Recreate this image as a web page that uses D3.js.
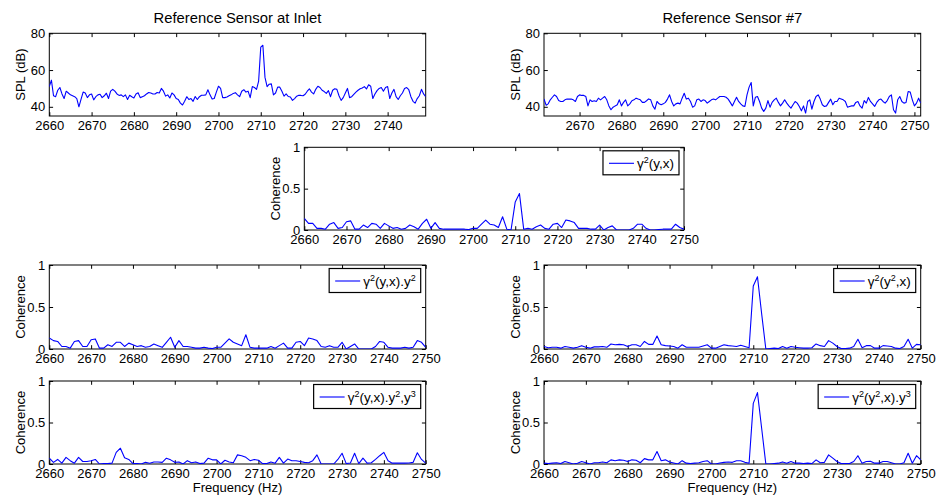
<!DOCTYPE html>
<html>
<head>
<meta charset="utf-8">
<script src="https://cdn.jsdelivr.net/npm/d3@7"></script>
<style>
  body { margin: 0; background: #fff; }
  svg { display: block; }
  text { font-family: "Liberation Sans", Arial, Helvetica, sans-serif; fill: #000; }
</style>
</head>
<body>
<svg id="fig" width="937" height="497"></svg>
<script>
// ---- Spectra (SPL in dB), 0.5 Hz resolution ----
const inletStart = 2660, inletStep = 0.5;
const splInlet = [
  51, 54.5, 46, 45.5, 49, 50.5, 47, 44.5, 48.5, 47.5, 46.5, 46, 45.5, 44.5, 40, 44, 48, 47.5, 45, 46.5,
  47, 43.8, 45.5, 46.5, 46.8, 45, 46, 47.4, 44.5, 48.5, 49.5, 48.5, 47, 46.2, 46.5, 45.5, 46.5, 44, 46.3, 45.5,
  44.8, 47, 47.6, 45, 45.5, 46, 47, 47.8, 47.5, 47, 47, 47.8, 47.5, 50, 48.5, 45.8, 46.5, 44.8, 47.5, 46.5,
  44.5, 44, 42, 41, 43, 45.5, 44, 44.5, 43, 45.6, 44, 45.5, 46.3, 46.3, 46.5, 49.3, 46.5, 44.2, 44.5, 48,
  51.2, 50, 45, 45, 45.3, 46, 46.5, 47.3, 47.7, 46.5, 45.5, 48.5, 49.3, 48, 48.5, 45, 51, 50.5, 49.5, 54,
  72.5, 73.5, 56, 51, 52.3, 52.5, 46.5, 47.5, 50.7, 50.7, 48.5, 45.8, 47, 45.6, 45.3, 43.5, 44.5, 45.8, 46.3, 46.2,
  46, 46.8, 48.5, 49.8, 48, 47, 49.5, 51.2, 50.5, 49, 48.3, 47.3, 48.8, 45.5, 49, 49.8, 49.5, 46, 43.5, 45,
  47.5, 50, 45, 45.5, 46.8, 48, 49, 49.8, 50.2, 51, 49.7, 52, 51.2, 44.5, 47, 48.8, 50, 50.5, 48.5, 50.5,
  51, 44.5, 47.5, 49.5, 45.5, 44, 46, 47.5, 50, 50.5, 49.3, 45.5, 43, 42, 44.5, 46, 49.5, 47, 45.5
];

const s7Start = 2661.5, s7Step = 0.5;
const splSensor7 = [
  44.3, 40.9, 41.6, 43.8, 45.2, 46.5, 45.6, 43.4, 42.9, 42.9, 43.8, 44.2, 44.2, 44.2, 43.8, 42.9, 45.6, 46.5, 46.2, 46.2,
  45.6, 40.5, 43.8, 42.9, 43.3, 42.9, 44.7, 43.8, 44.7, 45.6, 43.8, 40.5, 38.4, 39.8, 40.5, 41.1, 43.8, 40.5, 42.4, 43.8,
  40.5, 41.6, 43.3, 43.8, 44.7, 44.2, 43.8, 42.4, 42.4, 43.3, 44.3, 43.8, 40.5, 38.7, 42.9, 41.6, 41.1, 41.6, 42.4, 44.2,
  46.5, 42.9, 40.5, 41.6, 42.0, 41.6, 44.7, 47.4, 44.2, 44.7, 42.9, 39.8, 40.5, 43.8, 44.2, 42.9, 43.8, 43.4, 42.0, 42.9,
  43.8, 44.2, 43.8, 44.7, 45.6, 45.6, 45.6, 45.2, 44.2, 42.4, 40.5, 42.9, 45.2, 42.9, 41.6, 40.5, 40.2, 46.5, 50.7, 53.2,
  40.5, 45.2, 45.6, 42.9, 39.3, 37.5, 39.3, 43.4, 39.8, 42.4, 43.8, 44.7, 42.4, 40.5, 42.0, 43.8, 42.0, 40.5, 39.3, 41.1,
  42.9, 42.0, 40.2, 37.8, 40.5, 36.6, 42.9, 43.8, 38.7, 42.9, 45.6, 46.5, 44.2, 41.1, 40.2, 40.5, 42.4, 44.2, 41.1, 42.9,
  42.9, 44.7, 44.3, 43.8, 42.9, 39.8, 40.2, 40.5, 40.5, 42.4, 42.9, 40.5, 39.3, 43.4, 42.0, 45.1, 42.9, 41.6, 40.2, 42.4,
  43.8, 44.2, 42.9, 42.0, 43.4, 45.6, 46.5, 38.4, 36.6, 43.8, 45.6, 42.9, 42.0, 42.4, 48.3, 48.0, 43.8, 40.5, 42.0, 44.7,
  42.0
];

// ---- Coherence functions, 1 Hz resolution, 2660..2750 Hz ----
const cohStart = 2660, cohStep = 1;
const cohYX = [
  0.14, 0.08, 0.08, 0.02, 0.02, 0.01, 0.07, 0.09, 0.02, 0.03, 0.10, 0.11, 0.01, 0.01, 0.06, 0.03, 0.08, 0.07, 0.02, 0.08,
  0.05, 0.02, 0.03, 0.01, 0.02, 0.06, 0.04, 0.01, 0.08, 0.13, 0.02, 0.09, 0.02, 0.01, 0.01, 0.01, 0.01, 0.01, 0.01, 0.005,
  0.02, 0.02, 0.07, 0.12, 0.07, 0.06, 0.03, 0.16, 0.01, 0.0, 0.34, 0.44, 0.01, 0.02, 0.01, 0.04, 0.06, 0.02, 0.01, 0.07,
  0.08, 0.03, 0.12, 0.11, 0.09, 0.02, 0.02, 0.02, 0.01, 0.01, 0.06, 0.0, 0.03, 0.05, 0.0, 0.0, 0.0, 0.0, 0.02, 0.07,
  0.07, 0.02, 0.0, 0.0, 0.005, 0.01, 0.01, 0.01, 0.07, 0.03, 0.01
];
const cohYXy2 = [
  0.13, 0.10, 0.09, 0.03, 0.03, 0.01, 0.09, 0.10, 0.03, 0.03, 0.11, 0.12, 0.01, 0.01, 0.05, 0.03, 0.08, 0.08, 0.03, 0.07,
  0.05, 0.03, 0.04, 0.02, 0.03, 0.06, 0.04, 0.02, 0.08, 0.14, 0.02, 0.10, 0.03, 0.03, 0.02, 0.01, 0.01, 0.02, 0.01, 0.005,
  0.02, 0.02, 0.07, 0.12, 0.08, 0.06, 0.04, 0.17, 0.02, 0.01, 0.01, 0.01, 0.01, 0.03, 0.01, 0.04, 0.07, 0.01, 0.01, 0.08,
  0.09, 0.04, 0.13, 0.12, 0.10, 0.03, 0.02, 0.04, 0.02, 0.02, 0.08, 0.0, 0.03, 0.06, 0.0, 0.0, 0.0, 0.0, 0.03, 0.09,
  0.08, 0.02, 0.01, 0.01, 0.01, 0.02, 0.01, 0.02, 0.10, 0.08, 0.02
];
const cohY2X = [
  0.03, 0.015, 0.02, 0.02, 0.01, 0.03, 0.02, 0.01, 0.02, 0.04, 0.02, 0.01, 0.025, 0.025, 0.03, 0.02, 0.06, 0.05, 0.055, 0.05,
  0.03, 0.05, 0.05, 0.03, 0.09, 0.055, 0.055, 0.155, 0.05, 0.04, 0.035, 0.03, 0.01, 0.05, 0.02, 0.02, 0.02, 0.02, 0.035, 0.05,
  0.01, 0.01, 0.03, 0.05, 0.04, 0.035, 0.03, 0.045, 0.03, 0.015, 0.75, 0.86, 0.42, 0.0, 0.005, 0.01, 0.005, 0.03, 0.01, 0.03,
  0.02, 0.015, 0.01, 0.01, 0.015, 0.06, 0.04, 0.03, 0.10, 0.07, 0.03, 0.005, 0.005, 0.01, 0.03, 0.115, 0.015, 0.04, 0.04, 0.01,
  0.01, 0.04, 0.035, 0.03, 0.01, 0.005, 0.03, 0.115, 0.01, 0.055, 0.05
];
const cohYXy2y3 = [
  0.07, 0.02, 0.055, 0.01, 0.08, 0.04, 0.01, 0.08, 0.03, 0.03, 0.04, 0.055, 0.0, 0.005, 0.005, 0.01, 0.14, 0.19, 0.075, 0.055,
  0.005, 0.005, 0.0, 0.02, 0.01, 0.025, 0.025, 0.02, 0.07, 0.05, 0.02, 0.025, 0.0, 0.04, 0.015, 0.025, 0.005, 0.01, 0.07, 0.05,
  0.05, 0.0, 0.045, 0.025, 0.015, 0.11, 0.10, 0.08, 0.04, 0.055, 0.045, 0.005, 0.005, 0.025, 0.01, 0.08, 0.01, 0.06, 0.04, 0.04,
  0.03, 0.02, 0.015, 0.04, 0.11, 0.0, 0.0, 0.0, 0.0, 0.055, 0.13, 0.005, 0.012, 0.13, 0.005, 0.07, 0.01, 0.015, 0.055, 0.10,
  0.14, 0.04, 0.01, 0.01, 0.01, 0.01, 0.012, 0.02, 0.135, 0.055, 0.01
];
const cohY2Xy3 = [
  0.01, 0.005, 0.01, 0.015, 0.005, 0.03, 0.015, 0.0, 0.01, 0.03, 0.015, 0.0, 0.015, 0.015, 0.025, 0.015, 0.05, 0.04, 0.05, 0.045,
  0.03, 0.05, 0.045, 0.015, 0.065, 0.05, 0.05, 0.15, 0.04, 0.05, 0.025, 0.012, 0.0, 0.04, 0.01, 0.005, 0.01, 0.015, 0.03, 0.04,
  0.0, 0.0, 0.012, 0.02, 0.025, 0.02, 0.04, 0.04, 0.02, 0.01, 0.73, 0.86, 0.43, 0.0, 0.0, 0.005, 0.01, 0.025, 0.01, 0.03,
  0.01, 0.01, 0.005, 0.01, 0.005, 0.05, 0.015, 0.02, 0.11, 0.07, 0.03, 0.005, 0.005, 0.005, 0.03, 0.10, 0.01, 0.03, 0.032, 0.01,
  0.01, 0.03, 0.03, 0.015, 0.0, 0.0, 0.015, 0.13, 0.01, 0.10, 0.05
];

// ---- Axis ticks ----
const freqTicksInlet = [2660, 2670, 2680, 2690, 2700, 2710, 2720, 2730, 2740];
const freqTicksS7 = [2670, 2680, 2690, 2700, 2710, 2720, 2730, 2740, 2750];
const freqTicksCoh = [2660, 2670, 2680, 2690, 2700, 2710, 2720, 2730, 2740, 2750];
const splTicks = [40, 60, 80];
const cohTicks = [0, 0.5, 1];

// legend labels: [text, isSuperscript] pieces
const legYX = [["γ", 0], ["2", 1], ["(y,x)", 0]];
const legYXy2 = [["γ", 0], ["2", 1], ["(y,x).y", 0], ["2", 1]];
const legY2X = [["γ", 0], ["2", 1], ["(y", 0], ["2", 1], [",x)", 0]];
const legYXy2y3 = [["γ", 0], ["2", 1], ["(y,x).y", 0], ["2", 1], [",y", 0], ["3", 1]];
const legY2Xy3 = [["γ", 0], ["2", 1], ["(y", 0], ["2", 1], [",x).y", 0], ["3", 1]];

const series = (vals, start, step) => vals.map((v, i) => ({ f: start + i * step, v }));

const panels = [
  { box: [49.3, 33.3, 425.7, 116], xd: [2660, 2749], yd: [35, 80], xt: freqTicksInlet, yt: splTicks,
    data: series(splInlet, inletStart, inletStep), title: "Reference Sensor at Inlet", ylabel: "SPL (dB)" },
  { box: [544, 33.3, 920.7, 116], xd: [2661.5, 2751.5], yd: [35, 80], xt: freqTicksS7, yt: splTicks,
    data: series(splSensor7, s7Start, s7Step), title: "Reference Sensor #7", ylabel: "SPL (dB)" },
  { box: [304.3, 147.3, 684, 230], xd: [2660, 2750], yd: [0, 1], xt: freqTicksCoh, yt: cohTicks,
    data: series(cohYX, cohStart, cohStep), ylabel: "Coherence", legend: legYX },
  { box: [49.3, 265, 425.7, 349], xd: [2660, 2750], yd: [0, 1], xt: freqTicksCoh, yt: cohTicks,
    data: series(cohYXy2, cohStart, cohStep), ylabel: "Coherence", legend: legYXy2 },
  { box: [544, 265, 920.7, 349], xd: [2660, 2750], yd: [0, 1], xt: freqTicksCoh, yt: cohTicks,
    data: series(cohY2X, cohStart, cohStep), ylabel: "Coherence", legend: legY2X },
  { box: [49.3, 381, 425.7, 464], xd: [2660, 2750], yd: [0, 1], xt: freqTicksCoh, yt: cohTicks,
    data: series(cohYXy2y3, cohStart, cohStep), ylabel: "Coherence", legend: legYXy2y3, xlabel: "Frequency (Hz)" },
  { box: [544, 381, 920.7, 464], xd: [2660, 2750], yd: [0, 1], xt: freqTicksCoh, yt: cohTicks,
    data: series(cohY2Xy3, cohStart, cohStep), ylabel: "Coherence", legend: legY2Xy3, xlabel: "Frequency (Hz)" }
];

const svg = d3.select("#fig");
const FONT = 13, TICK = 3.8, BLUE = "#0000ff";

panels.forEach((p, k) => {
  const [x0, y0, x1, y1] = p.box;
  const w = x1 - x0, h = y1 - y0;
  const x = d3.scaleLinear().domain(p.xd).range([0, w]);
  const y = d3.scaleLinear().domain(p.yd).range([h, 0]);
  const g = svg.append("g").attr("transform", `translate(${x0},${y0})`);

  g.append("clipPath").attr("id", "clip" + k)
    .append("rect").attr("width", w).attr("height", h);

  const fmtY = d3.format("");
  const styleAxis = sel => {
    sel.select(".domain").remove();
    sel.selectAll("line").attr("stroke", "#000").attr("stroke-width", 1);
    sel.attr("font-size", FONT).attr("font-family", null);
    sel.selectAll("text").attr("fill", "#000");
  };

  g.append("g").attr("transform", `translate(0,${h})`)
    .call(d3.axisBottom(x).tickValues(p.xt).tickFormat(d3.format("d")).tickSize(-TICK).tickPadding(5))
    .call(styleAxis);
  g.append("g")
    .call(d3.axisTop(x).tickValues(p.xt).tickFormat("").tickSize(-TICK))
    .call(styleAxis);
  g.append("g")
    .call(d3.axisLeft(y).tickValues(p.yt).tickFormat(fmtY).tickSize(-TICK).tickPadding(4))
    .call(styleAxis);
  g.append("g").attr("transform", `translate(${w},0)`)
    .call(d3.axisRight(y).tickValues(p.yt).tickFormat("").tickSize(-TICK))
    .call(styleAxis);

  g.append("rect").attr("width", w).attr("height", h)
    .attr("fill", "none").attr("stroke", "#000").attr("stroke-width", 1);

  const line = d3.line().x(d => x(d.f)).y(d => y(d.v));
  g.append("path").datum(p.data)
    .attr("clip-path", `url(#clip${k})`)
    .attr("d", line).attr("fill", "none")
    .attr("stroke", BLUE).attr("stroke-width", 1.1).attr("stroke-linejoin", "round");

  if (p.title) {
    g.append("text").attr("x", w / 2).attr("y", -10.5)
      .attr("text-anchor", "middle").attr("font-size", 14.8).text(p.title);
  }
  g.append("text")
    .attr("transform", `translate(${-24.5},${h / 2}) rotate(-90)`)
    .attr("text-anchor", "middle").attr("font-size", FONT).text(p.ylabel);
  if (p.xlabel) {
    g.append("text").attr("x", w / 2).attr("y", 492 - y0)
      .attr("text-anchor", "middle").attr("font-size", FONT).text(p.xlabel);
  }

  if (p.legend) {
    const lg = g.append("g");
    const txt = lg.append("text").attr("font-size", FONT + 0.5);
    p.legend.forEach(([s, sup], i) => {
      const ts = txt.append("tspan").text(s);
      if (sup) ts.attr("font-size", 9).attr("dy", -5.5);
      else if (i > 0 && p.legend[i - 1][1]) ts.attr("dy", 5.5);
    });
    const tw = txt.node().getComputedTextLength();
    const lineLen = 25, padL = 6, gap = 3, padR = 5;
    const bw = padL + lineLen + gap + tw + padR, bh = 24;
    const bx = w - 5 - bw, by = 3.5;
    lg.insert("rect", "text").attr("x", bx).attr("y", by).attr("width", bw).attr("height", bh)
      .attr("fill", "#fff").attr("stroke", "#000").attr("stroke-width", 1.2);
    lg.append("line").attr("x1", bx + padL).attr("x2", bx + padL + lineLen)
      .attr("y1", by + bh / 2 + 0.5).attr("y2", by + bh / 2 + 0.5)
      .attr("stroke", BLUE).attr("stroke-width", 1.1);
    txt.attr("x", bx + padL + lineLen + gap).attr("y", by + bh / 2 + 5.5);
  }
});
</script>
</body>
</html>
